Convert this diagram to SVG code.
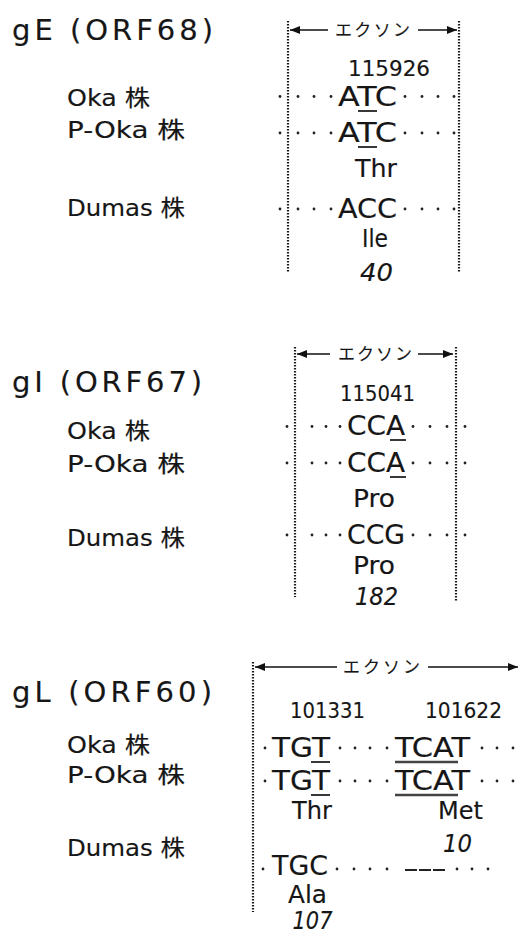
<svg xmlns="http://www.w3.org/2000/svg" width="521" height="933" viewBox="0 0 521 933">
<defs>
<marker id="ah" viewBox="0 0 10 8" refX="10" refY="4" markerWidth="10" markerHeight="8" markerUnits="userSpaceOnUse" orient="auto">
<path d="M0,0 L10,4 L0,8 Z" fill="#111"/>
</marker>
</defs>
<style>
text{font-family:"DejaVu Sans","Liberation Sans","Noto Sans CJK JP",sans-serif;fill:#161616;stroke:#161616;stroke-width:0.15}
.title{font-size:29px}
.lab{font-size:23px}
.cod{font-size:26px}
.aa{font-size:25px}
.num{font-size:22px}
.it{font-size:24px;font-style:italic}
.ex{font-family:"Noto Sans CJK JP",sans-serif;font-size:17px;stroke-width:0.1}
.vl{stroke:#1a1a1a;stroke-width:2.2;stroke-dasharray:1.6 1.4;fill:none}
.ar{stroke:#111;stroke-width:1.5;fill:none;marker-end:url(#ah)}
.ul{stroke:#222;stroke-width:1.8}
.ul2{stroke:#444;stroke-width:2.4}
.d{fill:#222}
</style>
<rect width="521" height="933" fill="#fff"/>

<g id="gE">
<text class="title" x="12" y="40" textLength="201" lengthAdjust="spacing">gE (ORF68)</text>
<text class="lab" x="67" y="106" textLength="83" lengthAdjust="spacingAndGlyphs">Oka 株</text>
<text class="lab" x="67" y="138" textLength="118" lengthAdjust="spacingAndGlyphs">P-Oka 株</text>
<text class="lab" x="67" y="216" textLength="118" lengthAdjust="spacingAndGlyphs">Dumas 株</text>
</g>
<g id="gE-exon">
<line class="vl" x1="288" y1="21" x2="288" y2="273"/>
<line class="vl" x1="459" y1="21" x2="459" y2="273"/>
<line class="ar" x1="328" y1="30" x2="290" y2="30"/>
<line class="ar" x1="418" y1="30" x2="457" y2="30"/>
<text class="ex" x="372.5" y="36" text-anchor="middle" textLength="75" lengthAdjust="spacing">エクソン</text>
<text class="num" x="389" y="76" text-anchor="middle" textLength="82" lengthAdjust="spacingAndGlyphs">115926</text>
<text class="cod" x="367.5" y="105.5" text-anchor="middle" textLength="59" lengthAdjust="spacingAndGlyphs">ATC</text>
<line class="ul" x1="358" y1="111" x2="377" y2="111"/>
<text class="cod" x="367.5" y="142" text-anchor="middle" textLength="59" lengthAdjust="spacingAndGlyphs">ATC</text>
<line class="ul" x1="358" y1="147" x2="377" y2="147"/>
<text class="aa" x="376" y="177" text-anchor="middle" textLength="42" lengthAdjust="spacingAndGlyphs">Thr</text>
<text class="cod" x="367.5" y="218" text-anchor="middle" textLength="59" lengthAdjust="spacingAndGlyphs">ACC</text>
<text class="aa" x="375" y="247" text-anchor="middle" textLength="26" lengthAdjust="spacingAndGlyphs">Ile</text>
<text class="it" x="376.5" y="281" text-anchor="middle" textLength="33" lengthAdjust="spacingAndGlyphs">40</text>
<g class="d">
<circle cx="280" cy="96.5" r="1.4"/><circle cx="298" cy="96.5" r="1.4"/><circle cx="314" cy="96.5" r="1.4"/><circle cx="331" cy="96.5" r="1.4"/>
<circle cx="405" cy="96.5" r="1.4"/><circle cx="422" cy="96.5" r="1.4"/><circle cx="438" cy="96.5" r="1.4"/><circle cx="454" cy="96.5" r="1.4"/>
<circle cx="280" cy="133" r="1.4"/><circle cx="298" cy="133" r="1.4"/><circle cx="314" cy="133" r="1.4"/><circle cx="331" cy="133" r="1.4"/>
<circle cx="405" cy="133" r="1.4"/><circle cx="422" cy="133" r="1.4"/><circle cx="438" cy="133" r="1.4"/><circle cx="454" cy="133" r="1.4"/>
<circle cx="280" cy="209" r="1.4"/><circle cx="298" cy="209" r="1.4"/><circle cx="314" cy="209" r="1.4"/><circle cx="331" cy="209" r="1.4"/>
<circle cx="405" cy="209" r="1.4"/><circle cx="422" cy="209" r="1.4"/><circle cx="438" cy="209" r="1.4"/><circle cx="454" cy="209" r="1.4"/>
</g>
</g>

<g id="gI">
<text class="title" x="12" y="392" textLength="190" lengthAdjust="spacing">gI (ORF67)</text>
<text class="lab" x="67" y="439" textLength="83" lengthAdjust="spacingAndGlyphs">Oka 株</text>
<text class="lab" x="67" y="471.5" textLength="118" lengthAdjust="spacingAndGlyphs">P-Oka 株</text>
<text class="lab" x="67" y="546" textLength="118" lengthAdjust="spacingAndGlyphs">Dumas 株</text>
</g>
<g id="gI-exon">
<line class="vl" x1="295" y1="347" x2="295" y2="597"/>
<line class="vl" x1="456" y1="347" x2="456" y2="602"/>
<line class="ar" x1="330" y1="354" x2="297" y2="354"/>
<line class="ar" x1="418" y1="354" x2="453" y2="354"/>
<text class="ex" x="375" y="360" text-anchor="middle" textLength="74" lengthAdjust="spacing">エクソン</text>
<text class="num" x="377.5" y="401" text-anchor="middle" textLength="75" lengthAdjust="spacingAndGlyphs">115041</text>
<text class="cod" x="376" y="435" text-anchor="middle" textLength="58" lengthAdjust="spacingAndGlyphs">CCA</text>
<line class="ul" x1="390" y1="440" x2="406" y2="440"/>
<text class="cod" x="376" y="471.5" text-anchor="middle" textLength="58" lengthAdjust="spacingAndGlyphs">CCA</text>
<line class="ul" x1="390" y1="477" x2="406" y2="477"/>
<text class="aa" x="374" y="507" text-anchor="middle" textLength="42" lengthAdjust="spacingAndGlyphs">Pro</text>
<text class="cod" x="376" y="544" text-anchor="middle" textLength="58" lengthAdjust="spacingAndGlyphs">CCG</text>
<text class="aa" x="374" y="574" text-anchor="middle" textLength="42" lengthAdjust="spacingAndGlyphs">Pro</text>
<text class="it" x="376.5" y="605" text-anchor="middle" textLength="43" lengthAdjust="spacingAndGlyphs">182</text>
<g class="d">
<circle cx="287" cy="426.5" r="1.4"/><circle cx="312" cy="426.5" r="1.4"/><circle cx="326" cy="426.5" r="1.4"/><circle cx="340" cy="426.5" r="1.4"/>
<circle cx="413" cy="426.5" r="1.4"/><circle cx="430" cy="426.5" r="1.4"/><circle cx="447" cy="426.5" r="1.4"/><circle cx="465" cy="426.5" r="1.4"/>
<circle cx="287" cy="463" r="1.4"/><circle cx="312" cy="463" r="1.4"/><circle cx="326" cy="463" r="1.4"/><circle cx="340" cy="463" r="1.4"/>
<circle cx="413" cy="463" r="1.4"/><circle cx="430" cy="463" r="1.4"/><circle cx="447" cy="463" r="1.4"/><circle cx="465" cy="463" r="1.4"/>
<circle cx="287" cy="535" r="1.4"/><circle cx="312" cy="535" r="1.4"/><circle cx="326" cy="535" r="1.4"/><circle cx="340" cy="535" r="1.4"/>
<circle cx="413" cy="535" r="1.4"/><circle cx="430" cy="535" r="1.4"/><circle cx="447" cy="535" r="1.4"/><circle cx="465" cy="535" r="1.4"/>
</g>
</g>

<g id="gL">
<text class="title" x="12" y="702" textLength="200" lengthAdjust="spacing">gL (ORF60)</text>
<text class="lab" x="67" y="753" textLength="83" lengthAdjust="spacingAndGlyphs">Oka 株</text>
<text class="lab" x="67" y="783" textLength="118" lengthAdjust="spacingAndGlyphs">P-Oka 株</text>
<text class="lab" x="67" y="856" textLength="118" lengthAdjust="spacingAndGlyphs">Dumas 株</text>
</g>
<g id="gL-exon">
<line class="vl" x1="253" y1="662" x2="253" y2="912"/>
<line class="ar" x1="337" y1="667" x2="255" y2="667"/>
<line class="ar" x1="428" y1="667" x2="518" y2="667"/>
<text class="ex" x="381.5" y="673" text-anchor="middle" textLength="77" lengthAdjust="spacing">エクソン</text>
<text class="num" x="327.5" y="718" text-anchor="middle" textLength="75" lengthAdjust="spacingAndGlyphs">101331</text>
<text class="num" x="463.5" y="718" text-anchor="middle" textLength="77" lengthAdjust="spacingAndGlyphs">101622</text>
<text class="cod" x="301" y="757" text-anchor="middle" textLength="58" lengthAdjust="spacingAndGlyphs">TGT</text>
<text class="cod" x="432.5" y="757" text-anchor="middle" textLength="75" lengthAdjust="spacingAndGlyphs">TCAT</text>
<line class="ul" x1="311" y1="762" x2="330" y2="762"/>
<line class="ul2" x1="395" y1="762" x2="458" y2="762"/>
<text class="cod" x="301" y="790" text-anchor="middle" textLength="58" lengthAdjust="spacingAndGlyphs">TGT</text>
<text class="cod" x="432.5" y="790" text-anchor="middle" textLength="75" lengthAdjust="spacingAndGlyphs">TCAT</text>
<line class="ul" x1="311" y1="795" x2="330" y2="795"/>
<line class="ul2" x1="395" y1="795" x2="458" y2="795"/>
<text class="aa" x="312" y="819" text-anchor="middle" textLength="40" lengthAdjust="spacingAndGlyphs">Thr</text>
<text class="aa" x="460.5" y="819" text-anchor="middle" textLength="45" lengthAdjust="spacingAndGlyphs">Met</text>
<text class="it" x="457.5" y="852" text-anchor="middle" textLength="29" lengthAdjust="spacingAndGlyphs">10</text>
<text class="cod" x="300" y="875" text-anchor="middle" textLength="56" lengthAdjust="spacingAndGlyphs" font-size="24">TGC</text>
<text class="aa" x="307.5" y="903" text-anchor="middle" textLength="39" lengthAdjust="spacingAndGlyphs" font-size="22">Ala</text>
<text class="it" x="312.5" y="928.5" text-anchor="middle" textLength="40" lengthAdjust="spacingAndGlyphs" font-size="18">107</text>
<line x1="405" y1="870" x2="447" y2="870" stroke="#222" stroke-width="1.8" stroke-dasharray="12 2"/>
<g class="d">
<circle cx="265" cy="748" r="1.4"/><circle cx="340" cy="748" r="1.4"/><circle cx="355" cy="748" r="1.4"/><circle cx="370" cy="748" r="1.4"/><circle cx="387" cy="748" r="1.4"/>
<circle cx="482" cy="748" r="1.4"/><circle cx="497" cy="748" r="1.4"/><circle cx="513" cy="748" r="1.4"/>
<circle cx="265" cy="781" r="1.4"/><circle cx="340" cy="781" r="1.4"/><circle cx="355" cy="781" r="1.4"/><circle cx="370" cy="781" r="1.4"/><circle cx="387" cy="781" r="1.4"/>
<circle cx="482" cy="781" r="1.4"/><circle cx="497" cy="781" r="1.4"/><circle cx="513" cy="781" r="1.4"/>
<circle cx="263" cy="869" r="1.4"/><circle cx="337" cy="869" r="1.4"/><circle cx="354" cy="869" r="1.4"/><circle cx="370" cy="869" r="1.4"/><circle cx="387" cy="869" r="1.4"/>
<circle cx="457" cy="869" r="1.4"/><circle cx="472" cy="869" r="1.4"/><circle cx="488" cy="869" r="1.4"/>
</g>
</g>
</svg>
